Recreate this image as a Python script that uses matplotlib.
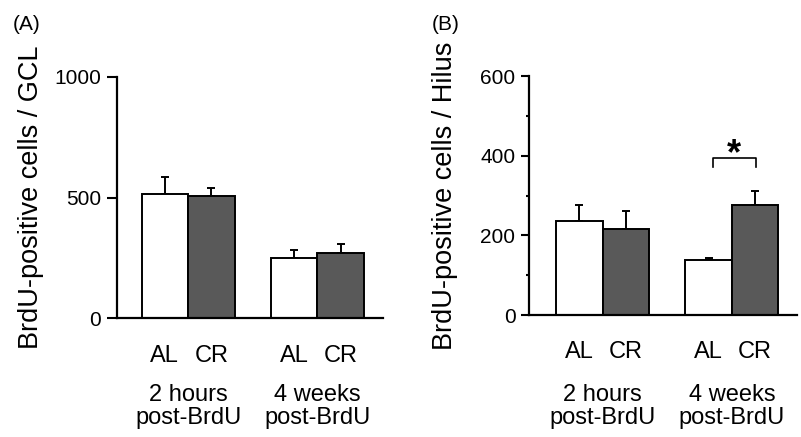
import numpy as np
import matplotlib
matplotlib.use('Agg')
import matplotlib.pyplot as plt

# data
groups = ['2 hours\npost-BrdU', '4 weeks\npost-BrdU']
diets = ['AL', 'CR']

gcl_mean = [515, 506, 251, 268]
gcl_err = [72, 32, 31, 39]

hilus_mean = [237, 215, 138, 276]
hilus_err = [39, 47, 6, 36]

colors = ['white', '#595959', 'white', '#595959']
xpos = np.array([0, 1, 2.78, 3.78])

plt.rcParams['font.family'] = ['Liberation Sans', 'DejaVu Sans']

fig = plt.figure(figsize=(8.01, 4.37), dpi=100)
axA = fig.add_axes([0.146, 0.272, 0.332, 0.552])
axB = fig.add_axes([0.660, 0.279, 0.335, 0.547])


def bar_panel(ax, means, errs, ylim, yticks, ylabel, xlim, ticklen,
              label_x, group_y):
    ax.bar(xpos, means, width=1.0, color=colors, edgecolor='black',
           linewidth=1.4, zorder=2)
    ax.errorbar(xpos, means, yerr=[np.zeros(len(errs)), errs], fmt='none',
                ecolor='black', elinewidth=1.4, capsize=3, capthick=1.4,
                zorder=1)
    ax.set_ylim(*ylim)
    ax.set_xlim(*xlim)
    ax.set_yticks(yticks)
    ax.tick_params(axis='y', labelsize=15, width=1.5, length=ticklen,
                   pad=4)
    ax.tick_params(axis='y', which='minor', width=1.5, length=2.5)
    ax.set_xticks(xpos)
    ax.set_xticklabels(diets * 2, fontsize=17)
    ax.tick_params(axis='x', length=0, pad=19)
    for s in ['top', 'right']:
        ax.spines[s].set_visible(False)
    for s in ['left', 'bottom']:
        ax.spines[s].set_linewidth(1.6)
    ax.set_ylabel(ylabel, fontsize=19.5)
    ax.yaxis.set_label_coords(label_x, 0.5)
    trans = ax.get_xaxis_transform()
    for i, g in enumerate(groups):
        ax.text((xpos[2 * i] + xpos[2 * i + 1]) / 2, group_y, g,
                transform=trans, ha='center', va='top', fontsize=17,
                linespacing=1.05)


bar_panel(axA, gcl_mean, gcl_err, (0, 1000), [0, 500, 1000],
          'BrdU-positive cells / GCL', (-1.03, 4.69), 7.5, -0.274, -0.275)
bar_panel(axB, hilus_mean, hilus_err, (0, 600), [0, 200, 400, 600],
          'BrdU-positive cells / Hilus', (-1.09, 4.68), 5.5, -0.265, -0.29)
axB.set_yticks([100, 300, 500], minor=True)

# significance bracket
bx = [2.87, 2.87, 3.80, 3.80]
axB.plot(bx, [372, 394, 394, 372], color='black', lw=1.2)
axB.text(3.33, 380, '*', ha='center', va='baseline', fontsize=26,
         fontweight='bold')

fig.text(0.016, 0.943, '(A)', fontsize=15, ha='left', va='center')
fig.text(0.539, 0.943, '(B)', fontsize=15, ha='left', va='center')

fig.savefig('out.png', dpi=100)
